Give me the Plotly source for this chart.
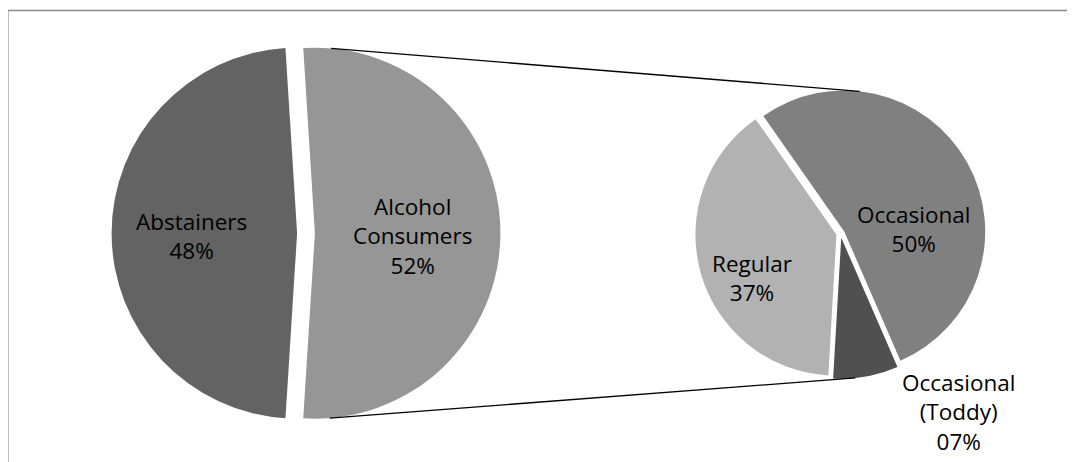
import math
import plotly.graph_objects as go

# ---------------- data ----------------
main_labels = ["Abstainers", "Alcohol<br>Consumers"]
main_values = [48, 52]
main_colors = ["#636363", "#969696"]

sub_labels = ["Occasional", "Occasional<br>(Toddy)", "Regular"]
sub_values = [50, 7, 37]
sub_colors = ["#808080", "#505050", "#b2b2b2"]

# ---------------- layout geometry (pixels) ----------------
W, H = 1075, 462
OFF = 8  # page body margin offset
L_CX, L_CY, L_R, L_PULL, L_ROT = 306 - OFF, 233.2 - OFF, 185.5, 0.048, 183.6
R_CX, R_CY, R_R, R_PULL, R_ROT = 840.5 - OFF, 233.5 - OFF, 141.0, 0.03, -35
main_lab_pos = [(268.4, 0.571), (91.6, 0.526)]
sub_lab_pos = [(87.6, 0.492), (146.1, 1.49), (242.7, 0.67)]

FONT = "Open Sans"
FS = 22.5


def domain(cx, cy, r, pull):
    half = r * (1 + pull)
    return dict(x=[(cx - half) / W, (cx + half) / W],
                y=[(H - cy - half) / H, (H - cy + half) / H])


def apex(cx, cy, r, pull, rot, values, idx):
    tot = sum(values)
    start = rot + 360 * sum(values[:idx]) / tot
    m = math.radians(start + 180 * values[idx] / tot)
    return cx + pull * r * math.sin(m), cy - pull * r * math.cos(m)


def polar(c, r, ang, frac=1.0):
    a = math.radians(ang)
    return c[0] + frac * r * math.sin(a), c[1] - frac * r * math.cos(a)


def to_paper(p):
    return p[0] / W, 1 - p[1] / H


fig = go.Figure()
fig.add_trace(go.Pie(
    labels=main_labels, values=main_values, sort=False, direction="clockwise",
    rotation=L_ROT, pull=[L_PULL] * len(main_values),
    marker=dict(colors=main_colors, line=dict(width=0)), textposition="none",
    domain=domain(L_CX, L_CY, L_R, L_PULL), showlegend=False, hoverinfo="label+value",
))
fig.add_trace(go.Pie(
    labels=sub_labels, values=sub_values, sort=False, direction="clockwise",
    rotation=R_ROT, pull=[R_PULL] * len(sub_values),
    marker=dict(colors=sub_colors, line=dict(width=0)), textposition="none",
    domain=domain(R_CX, R_CY, R_R, R_PULL), showlegend=False, hoverinfo="label+value",
))

annotations = []
for i, (lab, val) in enumerate(zip(main_labels, main_values)):
    c = apex(L_CX, L_CY, L_R, L_PULL, L_ROT, main_values, i)
    x, y = to_paper(polar(c, L_R, *main_lab_pos[i]))
    annotations.append(dict(x=x, y=y, xref="paper", yref="paper", showarrow=False,
                            text=f"{lab}<br>{val}%", align="center",
                            xanchor="center", yanchor="middle"))
for i, (lab, val) in enumerate(zip(sub_labels, sub_values)):
    c = apex(R_CX, R_CY, R_R, R_PULL, R_ROT, sub_values, i)
    x, y = to_paper(polar(c, R_R, *sub_lab_pos[i]))
    annotations.append(dict(x=x, y=y, xref="paper", yref="paper", showarrow=False,
                            text=f"{lab}<br>{val:02d}%", align="center",
                            xanchor="center", yanchor="middle"))

# connector lines between the two pies
cL = apex(L_CX, L_CY, L_R, L_PULL, L_ROT, main_values, 1)
cO = apex(R_CX, R_CY, R_R, R_PULL, R_ROT, sub_values, 0)
cT = apex(R_CX, R_CY, R_R, R_PULL, R_ROT, sub_values, 1)
shapes = []
for a, b in [(polar(cL, L_R, 5), polar(cO, R_R, 6.3)),
             (polar(cL, L_R, 175.4), polar(cT, R_R, 174.3))]:
    (x0, y0), (x1, y1) = to_paper(a), to_paper(b)
    shapes.append(dict(type="line", xref="paper", yref="paper", x0=x0, y0=y0, x1=x1, y1=y1,
                       line=dict(color="#000000", width=1.3), layer="above"))
# chart frame (only top and left edges are visible)
fx, fy = to_paper((7.8 - OFF, 10.5 - OFF))
shapes.append(dict(type="line", xref="paper", yref="paper", x0=fx, y0=fy, x1=1.01, y1=fy,
                   line=dict(color="#888888", width=1.5)))
shapes.append(dict(type="line", xref="paper", yref="paper", x0=fx, y0=fy, x1=fx, y1=-0.02,
                   line=dict(color="#888888", width=1.5)))

fig.update_layout(
    width=W, height=H, margin=dict(l=0, r=0, t=0, b=0),
    paper_bgcolor="#ffffff", plot_bgcolor="#ffffff",
    font=dict(family=FONT, size=FS, color="#000000"),
    shapes=shapes, annotations=annotations, showlegend=False,
)
fig.write_html("out.html")
